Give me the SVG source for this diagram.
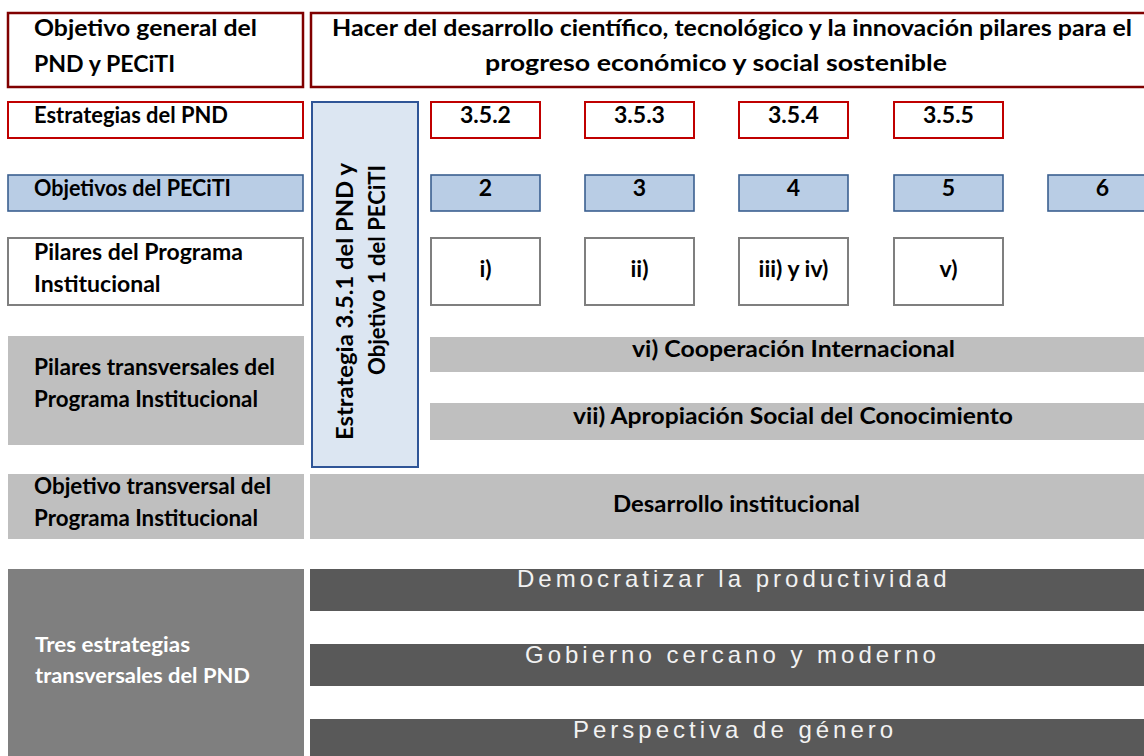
<svg xmlns="http://www.w3.org/2000/svg" width="1144" height="756" viewBox="0 0 1144 756">
<style>
.t{font-family:Lato,"Liberation Sans",sans-serif;font-weight:700;font-size:23px;fill:#000}
.c{text-anchor:middle}
.wt{font-family:Lato,"Liberation Sans",sans-serif;font-weight:700;font-size:21px;fill:#FFFFFF}
.w{font-family:"Liberation Sans",Arial,sans-serif;font-size:24px;fill:#F2F2F2;letter-spacing:4px}
.dr{fill:#FFFFFF;stroke:#800000;stroke-width:2.5}
.rd{fill:#FFFFFF;stroke:#C00000;stroke-width:2}
.bl{fill:#B9CDE5;stroke:#3B6090;stroke-width:1.6}
.gr{fill:#FFFFFF;stroke:#7F7F7F;stroke-width:2}
.lg{fill:#BFBFBF}
.mg{fill:#7F7F7F}
.dg{fill:#595959}
</style>
<rect width="1144" height="756" fill="#FFFFFF"/>

<g id="objetivo-general-label">
<rect class="dr" x="8" y="13" width="295" height="74"/>
<text class="t" x="34" y="36" textLength="223" lengthAdjust="spacingAndGlyphs">Objetivo general del</text>
<text class="t" x="34" y="72" textLength="141" lengthAdjust="spacingAndGlyphs">PND y PECiTI</text>
</g>
<g id="objetivo-general">
<rect class="dr" x="311" y="13" width="840" height="74"/>
<text class="t" x="332" y="36" textLength="800" lengthAdjust="spacingAndGlyphs">Hacer del desarrollo científico, tecnológico y la innovación pilares para el</text>
<text class="t" x="485" y="71" textLength="462" lengthAdjust="spacingAndGlyphs">progreso económico y social sostenible</text>
</g>

<g id="estrategias-label">
<rect class="rd" x="8" y="102" width="295" height="36"/>
<text class="t" x="34" y="123" textLength="194" lengthAdjust="spacingAndGlyphs">Estrategias del PND</text>
</g>
<g id="e352"><rect class="rd" x="431" y="102" width="109" height="36"/><text class="t c" x="485.5" y="123">3.5.2</text></g>
<g id="e353"><rect class="rd" x="585" y="102" width="109" height="36"/><text class="t c" x="639.5" y="123">3.5.3</text></g>
<g id="e354"><rect class="rd" x="739" y="102" width="109" height="36"/><text class="t c" x="793.5" y="123">3.5.4</text></g>
<g id="e355"><rect class="rd" x="894" y="102" width="109" height="36"/><text class="t c" x="948.5" y="123">3.5.5</text></g>

<g id="objetivos-label">
<rect class="bl" x="8" y="175" width="295" height="36"/>
<text class="t" x="34" y="196" textLength="197" lengthAdjust="spacingAndGlyphs">Objetivos del PECiTI</text>
</g>
<g id="o2"><rect class="bl" x="431" y="175" width="109" height="36"/><text class="t c" x="485.5" y="196">2</text></g>
<g id="o3"><rect class="bl" x="585" y="175" width="109" height="36"/><text class="t c" x="639.5" y="196">3</text></g>
<g id="o4"><rect class="bl" x="739" y="175" width="109" height="36"/><text class="t c" x="793.5" y="196">4</text></g>
<g id="o5"><rect class="bl" x="894" y="175" width="109" height="36"/><text class="t c" x="948.5" y="196">5</text></g>
<g id="o6"><rect class="bl" x="1048" y="175" width="109" height="36"/><text class="t c" x="1102.5" y="196">6</text></g>

<g id="pilares-label">
<rect class="gr" x="8" y="238" width="295" height="67"/>
<text class="t" x="34" y="260">Pilares del Programa</text>
<text class="t" x="34" y="292">Institucional</text>
</g>
<g id="p1"><rect class="gr" x="431" y="238" width="109" height="67"/><text class="t c" x="485.5" y="277">i)</text></g>
<g id="p2"><rect class="gr" x="585" y="238" width="109" height="67"/><text class="t c" x="639.5" y="277">ii)</text></g>
<g id="p3"><rect class="gr" x="739" y="238" width="109" height="67"/><text class="t c" x="793.5" y="277">iii) y iv)</text></g>
<g id="p5"><rect class="gr" x="894" y="238" width="109" height="67"/><text class="t c" x="948.5" y="277">v)</text></g>

<g id="estrategia-351">
<rect x="312" y="102" width="106" height="365" fill="#DCE6F2" stroke="#2F5597" stroke-width="2"/>
<text class="t" transform="translate(353,163) rotate(-90)" text-anchor="end" textLength="277" lengthAdjust="spacingAndGlyphs">Estrategia 3.5.1 del PND y</text>
<text class="t" transform="translate(385,165) rotate(-90)" text-anchor="end" textLength="210" lengthAdjust="spacingAndGlyphs">Objetivo 1 del PECiTI</text>
</g>

<g id="pilares-transversales-label">
<rect class="lg" x="8" y="336" width="296" height="109"/>
<text class="t" x="34" y="375" textLength="241" lengthAdjust="spacingAndGlyphs">Pilares transversales del</text>
<text class="t" x="34" y="407" textLength="224" lengthAdjust="spacingAndGlyphs">Programa Institucional</text>
</g>
<g id="cooperacion">
<rect class="lg" x="430" y="337" width="714" height="35"/>
<text class="t c" x="793.5" y="357" textLength="323" lengthAdjust="spacingAndGlyphs">vi) Cooperación Internacional</text>
</g>
<g id="apropiacion">
<rect class="lg" x="430" y="403" width="714" height="37"/>
<text class="t c" x="793" y="424" textLength="440" lengthAdjust="spacingAndGlyphs">vii) Apropiación Social del Conocimiento</text>
</g>

<g id="objetivo-transversal-label">
<rect class="lg" x="8" y="474" width="296" height="65"/>
<text class="t" x="34" y="494" textLength="237" lengthAdjust="spacingAndGlyphs">Objetivo transversal del</text>
<text class="t" x="34" y="526" textLength="224" lengthAdjust="spacingAndGlyphs">Programa Institucional</text>
</g>
<g id="desarrollo">
<rect class="lg" x="310" y="474" width="834" height="65"/>
<text class="t c" x="736.5" y="512" textLength="247" lengthAdjust="spacingAndGlyphs">Desarrollo institucional</text>
</g>

<g id="tres-estrategias-label">
<rect class="mg" x="8" y="569" width="296" height="187"/>
<text class="wt" x="35" y="652" textLength="155" lengthAdjust="spacingAndGlyphs">Tres estrategias</text>
<text class="wt" x="35" y="683" textLength="215" lengthAdjust="spacingAndGlyphs">transversales del PND</text>
</g>
<g id="democratizar">
<rect class="dg" x="310" y="569" width="834" height="42"/>
<text class="w" x="517" y="587">Democratizar la productividad</text>
</g>
<g id="gobierno">
<rect class="dg" x="310" y="644" width="834" height="42"/>
<text class="w" x="525" y="663">Gobierno cercano y moderno</text>
</g>
<g id="perspectiva">
<rect class="dg" x="310" y="719" width="834" height="37"/>
<text class="w" x="573" y="738">Perspectiva de género</text>
</g>

<g id="connectors"></g>
</svg>
